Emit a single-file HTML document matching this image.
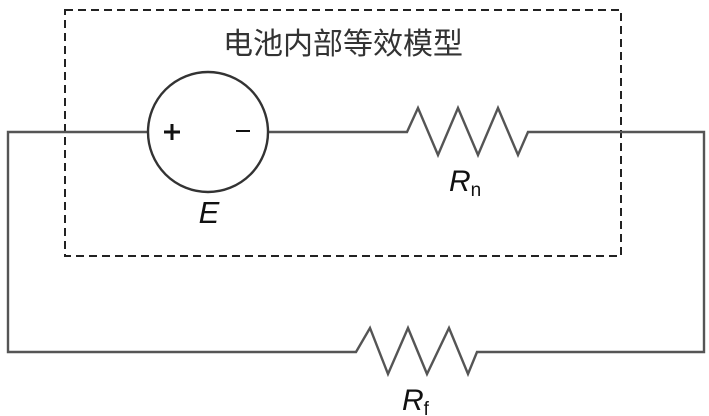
<!DOCTYPE html>
<html><head><meta charset="utf-8"><style>
html,body{margin:0;padding:0;background:#fff;}
svg{display:block;}
</style></head><body>
<svg width="709" height="416" viewBox="0 0 709 416" xmlns="http://www.w3.org/2000/svg">
<rect x="65" y="10" width="556" height="246" fill="none" stroke="#222" stroke-width="2" stroke-dasharray="8,5"/>
<g fill="none" stroke="#555" stroke-width="2.4" stroke-linejoin="miter">
<polyline points="148,132 8,132 8,352 356,352 370,328 388,374 408,328 427,374 449,328 468,374 477,352 704,352 704,132 528,132 518,155 498,108 478,155 458,108 438,155 418,108 407,132 269,132"/>
<circle cx="208" cy="132" r="60" stroke="#333"/>
</g>
<g stroke="#111">
<line x1="164" y1="132" x2="180" y2="132" stroke-width="3"/>
<line x1="172" y1="124" x2="172" y2="140" stroke-width="3"/>
<line x1="236" y1="131" x2="250" y2="131" stroke-width="2"/>
</g>
<text x="343" y="54" font-family="'Liberation Sans','Noto Sans CJK SC',sans-serif" font-size="30" fill="#333" text-anchor="middle">电池内部等效模型</text>
<text x="209" y="223" font-family="'Liberation Sans',sans-serif" font-size="31" font-style="italic" fill="#111" text-anchor="middle">E</text>
<text x="449" y="191" font-family="'Liberation Sans',sans-serif" font-size="30" font-style="italic" fill="#111">R<tspan font-style="normal" font-size="19" dy="5">n</tspan></text>
<text x="402" y="410" font-family="'Liberation Sans',sans-serif" font-size="30" font-style="italic" fill="#111">R<tspan font-style="normal" font-size="19" dy="5">f</tspan></text>
</svg>
</body></html>
